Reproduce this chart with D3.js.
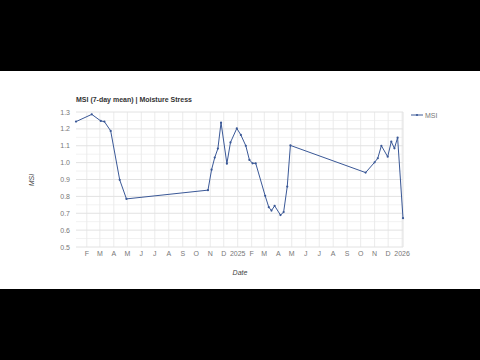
<!DOCTYPE html>
<meta charset="utf-8">
<style>
  body { margin: 0; background: #000; }
  svg { display: block; font-family: 'Liberation Sans', Arial, sans-serif; }
</style>
<body>
<div id="vis"></div>
<script src="https://cdn.jsdelivr.net/npm/d3@7"></script>
<script>

const dates = [
  '2024-01-08', '2024-02-12', '2024-03-03', '2024-03-11', '2024-03-25', '2024-04-14',
  '2024-04-29', '2024-10-27', '2024-11-04', '2024-11-11', '2024-11-18', '2024-11-25',
  '2024-12-08', '2024-12-16', '2024-12-30', '2025-01-08', '2025-01-19', '2025-01-27',
  '2025-02-03', '2025-02-10', '2025-03-03', '2025-03-11', '2025-03-17', '2025-03-24',
  '2025-04-06', '2025-04-13', '2025-04-21', '2025-04-28', '2025-10-12', '2025-11-01',
  '2025-11-08', '2025-11-16', '2025-11-30', '2025-12-08', '2025-12-15', '2025-12-22',
  '2026-01-03'
];
const msi = [
  1.243, 1.286, 1.247, 1.243, 1.188, 0.898,
  0.785, 0.837, 0.958, 1.03, 1.083, 1.237,
  0.994, 1.12, 1.203, 1.164, 1.10, 1.016,
  0.996, 0.996, 0.803, 0.736, 0.716, 0.744,
  0.689, 0.707, 0.858, 1.102, 0.941, 1.002,
  1.026, 1.10, 1.035, 1.124, 1.085, 1.148,
  0.671
];
const yTicks = [0.5, 0.6, 0.7, 0.8, 0.9, 1.0, 1.1, 1.2, 1.3];

const width = 480, height = 360;
const lineColor = '#3a5897';

const parse = d3.timeParse('%Y-%m-%d');
const points = dates.map((d, i) => ({ date: parse(d), value: msi[i] }));

const svg = d3.select('#vis').append('svg')
    .attr('width', width)
    .attr('height', height);

// white panel between the black bars
svg.append('rect')
    .attr('x', 0).attr('y', 71)
    .attr('width', width).attr('height', 218)
    .style('fill', '#fff');

const plot = { left: 76, right: 403, top: 112, bottom: 247 };

const x = d3.scaleTime()
    .domain(d3.extent(points, d => d.date))
    .range([plot.left, plot.right]);
const y = d3.scaleLinear()
    .domain([0.5, 1.3])
    .range([plot.bottom, plot.top]);

const gridG = svg.append('g').attr('class', 'grid');

// minor horizontal lines
gridG.selectAll('.minor-h')
    .data(d3.range(0.55, 1.3, 0.1))
    .enter().append('line')
    .attr('x1', plot.left).attr('x2', plot.right)
    .attr('y1', d => y(d)).attr('y2', d => y(d))
    .style('stroke', '#f2f2f2');

const months = x.ticks(d3.timeMonth.every(1));
gridG.selectAll('.month')
    .data(months)
    .enter().append('line')
    .attr('x1', d => x(d)).attr('x2', d => x(d))
    .attr('y1', plot.top).attr('y2', plot.bottom)
    .style('stroke', '#ebebeb');

gridG.selectAll('.major-h')
    .data(yTicks)
    .enter().append('line')
    .attr('x1', plot.left).attr('x2', plot.right)
    .attr('y1', d => y(d)).attr('y2', d => y(d))
    .style('stroke', '#e2e2e2');

// right edge line
gridG.append('line')
    .attr('x1', plot.right).attr('x2', plot.right)
    .attr('y1', plot.top).attr('y2', plot.bottom)
    .style('stroke', '#e2e2e2');

// y tick labels
svg.append('g').selectAll('text')
    .data(yTicks)
    .enter().append('text')
    .attr('x', plot.left - 6)
    .attr('y', d => y(d) + 2.5)
    .style('font-size', '7px')
    .style('fill', '#777')
    .style('text-anchor', 'end')
    .text(d => d3.format('.1f')(d));

// x tick labels
const monthFmt = d => d.getMonth() === 0 ? d3.timeFormat('%Y')(d) : d3.timeFormat('%b')(d).charAt(0);
svg.append('g').selectAll('text')
    .data(months)
    .enter().append('text')
    .attr('x', d => x(d))
    .attr('y', plot.bottom + 9)
    .style('font-size', '7px')
    .style('fill', '#777')
    .style('text-anchor', 'middle')
    .text(monthFmt);

const line = d3.line()
    .x(d => x(d.date))
    .y(d => y(d.value));

svg.append('path')
    .datum(points)
    .attr('d', line)
    .style('fill', 'none')
    .style('stroke', lineColor)
    .style('stroke-width', 1);

svg.append('g').selectAll('circle')
    .data(points)
    .enter().append('circle')
    .attr('cx', d => x(d.date))
    .attr('cy', d => y(d.value))
    .attr('r', 1.1)
    .style('fill', lineColor);

// title
svg.append('text')
    .attr('x', plot.left)
    .attr('y', 102)
    .style('font-size', '7px')
    .style('font-weight', 'bold')
    .style('fill', '#333')
    .text('MSI (7-day mean) | Moisture Stress');

// legend
const leg = svg.append('g').attr('transform', 'translate(411,115)');
leg.append('line')
    .attr('x1', 0).attr('x2', 12)
    .style('stroke', lineColor);
leg.append('circle')
    .attr('cx', 6).attr('r', 1.1)
    .style('fill', lineColor);
leg.append('text')
    .attr('x', 14).attr('y', 2.5)
    .style('font-size', '7px')
    .style('fill', '#777')
    .text('MSI');

// axis titles
svg.append('text')
    .attr('x', 240).attr('y', 275)
    .style('font-size', '7px')
    .style('font-style', 'italic')
    .style('fill', '#444')
    .style('text-anchor', 'middle')
    .text('Date');
svg.append('text')
    .attr('transform', 'translate(34,180) rotate(-90)')
    .style('font-size', '7px')
    .style('font-style', 'italic')
    .style('fill', '#444')
    .style('text-anchor', 'middle')
    .text('MSI');

</script>
</body>
